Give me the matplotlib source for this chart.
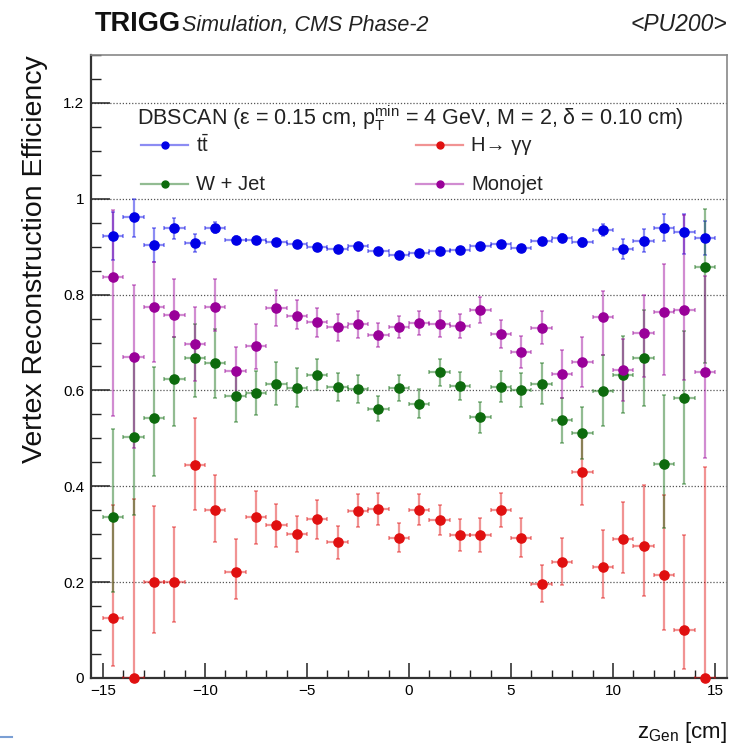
import matplotlib
matplotlib.use('Agg')
import matplotlib.pyplot as plt
from matplotlib.lines import Line2D
from matplotlib.ticker import MultipleLocator

plt.rcParams['font.family'] = ['Liberation Sans', 'DejaVu Sans']
plt.rcParams['mathtext.fontset'] = 'custom'
plt.rcParams['mathtext.rm'] = 'Liberation Sans'
plt.rcParams['mathtext.it'] = 'Liberation Sans:italic'
plt.rcParams['mathtext.bf'] = 'Liberation Sans:bold'

# bin centres of the generated vertex z position [cm], 1 cm bins
z_gen = [-14.5, -13.5, -12.5, -11.5, -10.5, -9.5, -8.5, -7.5, -6.5, -5.5,
         -4.5, -3.5, -2.5, -1.5, -0.5, 0.5, 1.5, 2.5, 3.5, 4.5,
         5.5, 6.5, 7.5, 8.5, 9.5, 10.5, 11.5, 12.5, 13.5, 14.5]
bin_half_width = 0.5

# ttbar
tt_eff = [0.923, 0.961, 0.903, 0.938, 0.907, 0.940, 0.914, 0.914, 0.910, 0.906,
          0.899, 0.895, 0.902, 0.892, 0.883, 0.886, 0.892, 0.894, 0.902, 0.906,
          0.897, 0.912, 0.918, 0.909, 0.935, 0.895, 0.912, 0.940, 0.930, 0.918]
tt_hi = [0.050, 0.038, 0.035, 0.021, 0.019, 0.012, 0.008, 0.007, 0.006, 0.006,
         0.006, 0.006, 0.006, 0.006, 0.006, 0.006, 0.006, 0.006, 0.006, 0.006,
         0.007, 0.007, 0.008, 0.010, 0.012, 0.020, 0.024, 0.028, 0.038, 0.035]
tt_lo = [0.050, 0.040, 0.035, 0.021, 0.019, 0.012, 0.008, 0.007, 0.006, 0.006,
         0.006, 0.006, 0.006, 0.006, 0.006, 0.006, 0.006, 0.006, 0.006, 0.006,
         0.007, 0.007, 0.008, 0.010, 0.012, 0.020, 0.024, 0.028, 0.045, 0.035]

# H -> gamma gamma
hgg_eff = [0.126, 0.000, 0.201, 0.201, 0.445, 0.351, 0.221, 0.335, 0.319, 0.301,
           0.331, 0.283, 0.349, 0.353, 0.293, 0.351, 0.329, 0.298, 0.298, 0.351,
           0.293, 0.197, 0.243, 0.430, 0.231, 0.289, 0.275, 0.215, 0.101, 0.000]
hgg_hi = [0.235, 0.374, 0.157, 0.114, 0.098, 0.073, 0.068, 0.055, 0.045, 0.038,
          0.040, 0.034, 0.034, 0.033, 0.030, 0.032, 0.031, 0.033, 0.036, 0.036,
          0.040, 0.038, 0.049, 0.070, 0.077, 0.078, 0.127, 0.166, 0.197, 0.440]
hgg_lo = [0.100, 0.000, 0.107, 0.084, 0.094, 0.067, 0.057, 0.055, 0.045, 0.038,
          0.040, 0.034, 0.034, 0.033, 0.030, 0.032, 0.031, 0.033, 0.036, 0.036,
          0.040, 0.038, 0.049, 0.068, 0.065, 0.070, 0.104, 0.115, 0.083, 0.000]

# W + jet
wjet_eff = [0.335, 0.503, 0.543, 0.623, 0.668, 0.657, 0.588, 0.594, 0.614, 0.606,
            0.633, 0.607, 0.603, 0.562, 0.605, 0.572, 0.638, 0.610, 0.544, 0.608,
            0.601, 0.614, 0.538, 0.511, 0.599, 0.633, 0.668, 0.446, 0.585, 0.858]
wjet_hi = [0.185, 0.165, 0.106, 0.088, 0.071, 0.072, 0.054, 0.046, 0.045, 0.040,
           0.033, 0.030, 0.030, 0.026, 0.027, 0.030, 0.028, 0.029, 0.032, 0.033,
           0.036, 0.043, 0.047, 0.054, 0.074, 0.080, 0.100, 0.144, 0.140, 0.120]
wjet_lo = [0.155, 0.163, 0.122, 0.098, 0.082, 0.072, 0.054, 0.046, 0.045, 0.040,
           0.033, 0.030, 0.030, 0.026, 0.027, 0.030, 0.028, 0.029, 0.032, 0.033,
           0.036, 0.043, 0.047, 0.054, 0.074, 0.080, 0.100, 0.134, 0.180, 0.200]

# monojet
mono_eff = [0.836, 0.669, 0.775, 0.758, 0.697, 0.775, 0.640, 0.692, 0.772, 0.756,
            0.742, 0.732, 0.738, 0.715, 0.733, 0.740, 0.738, 0.735, 0.768, 0.718,
            0.680, 0.731, 0.635, 0.659, 0.753, 0.642, 0.719, 0.763, 0.767, 0.638]
mono_hi = [0.140, 0.150, 0.094, 0.075, 0.077, 0.058, 0.050, 0.047, 0.038, 0.032,
           0.030, 0.028, 0.028, 0.025, 0.023, 0.025, 0.027, 0.025, 0.028, 0.030,
           0.033, 0.035, 0.050, 0.052, 0.055, 0.065, 0.080, 0.100, 0.200, 0.200]
mono_lo = [0.290, 0.190, 0.116, 0.047, 0.077, 0.050, 0.050, 0.047, 0.038, 0.028,
           0.030, 0.028, 0.028, 0.025, 0.023, 0.025, 0.027, 0.025, 0.028, 0.030,
           0.033, 0.035, 0.050, 0.052, 0.080, 0.065, 0.090, 0.130, 0.146, 0.180]

samples = [
    ('tt', tt_eff, tt_lo, tt_hi, '#0000e6', False),
    ('hgg', hgg_eff, hgg_lo, hgg_hi, '#e01010', True),
    ('wjet', wjet_eff, wjet_lo, wjet_hi, '#0d6b0d', False),
    ('mono', mono_eff, mono_lo, mono_hi, '#990099', False),
]

fig = plt.figure(figsize=(7.37, 7.48), dpi=100)
ax = fig.add_axes([0.1235, 0.0936, 0.8629, 0.8329])

for name, eff, lo, hi, color, noclip in samples:
    eb = ax.errorbar(z_gen, eff, xerr=bin_half_width, yerr=[lo, hi],
                     fmt='o', color=color, markersize=6.6, mec=color,
                     ecolor=color, elinewidth=1.6, capsize=1.2, capthick=1.2,
                     zorder=3)
    for art in eb.lines[1] + eb.lines[2]:
        art.set_alpha(0.45)
    if noclip:
        eb.lines[0].set_clip_on(False)

ax.set_xlim(-15.59, 15.59)
ax.set_ylim(0, 1.3)

# horizontal dotted grid at the major y ticks
for yv in [0.2, 0.4, 0.6, 0.8, 1.0, 1.2]:
    ax.axhline(yv, color='#555555', lw=0.9, ls=(0, (1, 1.5)), zorder=1)

ax.xaxis.set_major_locator(MultipleLocator(5))
ax.xaxis.set_minor_locator(MultipleLocator(1))
ax.yaxis.set_major_locator(MultipleLocator(0.2))
ax.yaxis.set_minor_locator(MultipleLocator(0.05))
ax.set_yticks([0, 0.2, 0.4, 0.6, 0.8, 1.0, 1.2])
ax.set_yticklabels(['0', '0.2', '0.4', '0.6', '0.8', '1', '1.2'])
ax.tick_params(which='both', direction='in', top=False, right=False,
               labelsize=11, color='#222222')
ax.tick_params(axis='y', which='major', length=14, width=1.1, pad=5)
ax.tick_params(axis='y', which='minor', length=7, width=1.0)
ax.tick_params(axis='x', which='major', length=11, width=1.1, pad=4)
ax.tick_params(axis='x', which='minor', length=6, width=1.0)

for side in ['left', 'bottom']:
    ax.spines[side].set_color('#333333')
    ax.spines[side].set_linewidth(1.6)
for side in ['top', 'right']:
    ax.spines[side].set_color('#888888')
    ax.spines[side].set_linewidth(1.2)

# algorithm settings and legend
ax.text(0.072, 0.888,
        r'DBSCAN (ε = 0.15 cm, $\mathrm{p}_{\mathrm{T}}^{\mathrm{min}}$ = 4 GeV, M = 2, δ = 0.10 cm)',
        transform=ax.transAxes, fontsize=15.5, va='baseline', ha='left',
        color='#222222')

legend_entries = [
    (r'$\mathrm{t}\bar{\mathrm{t}}$', '#0000e6', 0.0787, 0.8555),
    ('H→ γγ', '#e01010', 0.5110, 0.8555),
    ('W + Jet', '#0d6b0d', 0.0787, 0.7929),
    ('Monojet', '#990099', 0.5110, 0.7929),
]
handle_len = 0.074
for label, color, lx, ly in legend_entries:
    ax.plot([lx, lx + handle_len], [ly, ly], color=color, alpha=0.45, lw=1.6,
            transform=ax.transAxes, clip_on=False)
    ax.plot([lx + handle_len / 2], [ly], 'o', color=color, markersize=5,
            transform=ax.transAxes, clip_on=False)
    ax.text(lx + handle_len + 0.013, ly, label, transform=ax.transAxes,
            fontsize=14.5, va='center', ha='left', color='#222222')

# header
fig.text(95 / 737, 1 - 31 / 748, 'TRIGG', fontsize=19.5, fontweight='bold',
         va='baseline', ha='left', color='#111111')
fig.text(182 / 737, 1 - 31 / 748, 'Simulation, CMS Phase-2', fontsize=15.5,
         fontstyle='italic', va='baseline', ha='left', color='#222222')
fig.text(727 / 737, 1 - 31 / 748, '<PU200>', fontsize=16.5, fontstyle='italic',
         va='baseline', ha='right', color='#222222')

fig.text(35 / 737, 1 - 55 / 748, 'Vertex Reconstruction Efficiency',
         rotation=90, fontsize=20.5, va='top', ha='center', color='#111111')
fig.text(727 / 737, 0.004, r'z$_{\mathrm{Gen}}$ [cm]', fontsize=16,
         va='bottom', ha='right', color='#111111')

fig.add_artist(Line2D([0, 12 / 737], [1 - 737 / 748, 1 - 737 / 748],
                      color='#7a9fd4', lw=1.5))

fig.savefig('out.png', dpi=100)
plt.close(fig)
